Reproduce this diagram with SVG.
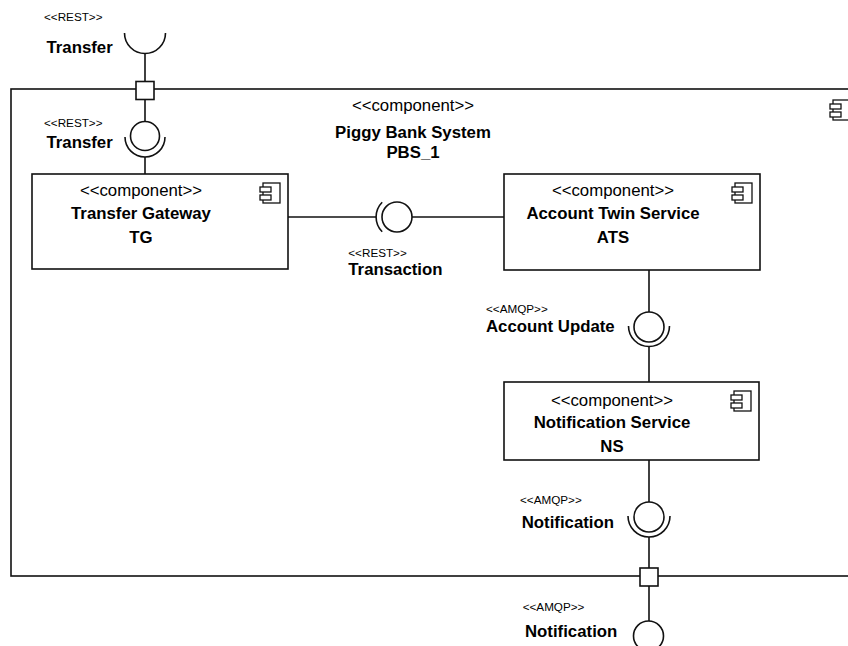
<svg xmlns="http://www.w3.org/2000/svg" width="848" height="646" viewBox="0 0 848 646">
<defs>
<style>
.box{fill:#fff;stroke:#111;stroke-width:1.6}
.ln{fill:none;stroke:#111;stroke-width:1.6}
.ic{fill:#fff;stroke:#111;stroke-width:1.3}
.st{font-family:"Liberation Sans",Arial,sans-serif;font-size:16.8px;fill:#000}
.nm{font-family:"Liberation Sans",Arial,sans-serif;font-size:16.8px;font-weight:bold;fill:#000}
.sm{font-family:"Liberation Sans",Arial,sans-serif;font-size:11.7px;fill:#000}
</style>
<g id="cicon">
<rect class="ic" x="3" y="0" width="17" height="20"/>
<rect class="ic" x="0" y="4" width="11" height="5"/>
<rect class="ic" x="0" y="12" width="11" height="5"/>
</g>
</defs>
<rect width="848" height="646" fill="#fff"/>

<g id="system">
<rect class="box" x="11" y="89" width="860" height="487"/>
<use href="#cicon" x="830" y="100"/>
<text class="st" x="413" y="111" text-anchor="middle">&lt;&lt;component&gt;&gt;</text>
<text class="nm" x="413" y="137.5" text-anchor="middle">Piggy Bank System</text>
<text class="nm" x="413" y="158" text-anchor="middle">PBS_1</text>
</g>

<g id="connectors">
<line class="ln" x1="145" y1="53.5" x2="145" y2="82"/>
<line class="ln" x1="145" y1="99" x2="145" y2="121.5"/>
<line class="ln" x1="145" y1="157" x2="145" y2="174"/>
<line class="ln" x1="288" y1="217" x2="376" y2="217"/>
<line class="ln" x1="412" y1="217" x2="504" y2="217"/>
<line class="ln" x1="649" y1="270" x2="649" y2="312"/>
<line class="ln" x1="649" y1="346" x2="649" y2="382"/>
<line class="ln" x1="649" y1="460" x2="649" y2="502"/>
<line class="ln" x1="649" y1="537" x2="649" y2="568"/>
<line class="ln" x1="649" y1="586" x2="649" y2="621"/>
</g>

<g id="port-transfer">
<rect class="box" x="136" y="81.5" width="18" height="18"/>
</g>
<g id="port-notification">
<rect class="box" x="640" y="568" width="18" height="18"/>
</g>

<g id="req-transfer-ext">
<path class="ln" d="M124.5,33 A20.5,20.5 0 0 0 165.5,33"/>
<text class="sm" x="44" y="20.5">&lt;&lt;REST&gt;&gt;</text>
<text class="nm" x="46.5" y="53">Transfer</text>
</g>

<g id="if-transfer">
<circle class="ln" cx="145" cy="136" r="14.5"/>
<path class="ln" d="M125,137 A20,20 0 0 0 165,137"/>
<text class="sm" x="44" y="126.5">&lt;&lt;REST&gt;&gt;</text>
<text class="nm" x="46.5" y="148">Transfer</text>
</g>

<g id="TG">
<rect class="box" x="32" y="174" width="256" height="95"/>
<use href="#cicon" x="260" y="183"/>
<text class="st" x="141" y="196" text-anchor="middle">&lt;&lt;component&gt;&gt;</text>
<text class="nm" x="141" y="219" text-anchor="middle">Transfer Gateway</text>
<text class="nm" x="141" y="243" text-anchor="middle">TG</text>
</g>

<g id="if-transaction">
<circle class="ln" cx="397" cy="217" r="15"/>
<path class="ln" d="M382.2,202.2 A21,21 0 0 0 382.2,231.8"/>
<text class="sm" x="348.3" y="257">&lt;&lt;REST&gt;&gt;</text>
<text class="nm" x="348.3" y="275">Transaction</text>
</g>

<g id="ATS">
<rect class="box" x="504" y="174" width="256" height="96"/>
<use href="#cicon" x="732" y="183"/>
<text class="st" x="613" y="196" text-anchor="middle">&lt;&lt;component&gt;&gt;</text>
<text class="nm" x="613" y="219" text-anchor="middle">Account Twin Service</text>
<text class="nm" x="613" y="243" text-anchor="middle">ATS</text>
</g>

<g id="if-account-update">
<circle class="ln" cx="649" cy="327" r="15"/>
<path class="ln" d="M628.5,326 A20.5,20.5 0 0 0 669.5,326"/>
<text class="sm" x="486" y="312.7">&lt;&lt;AMQP&gt;&gt;</text>
<text class="nm" x="486" y="331.7">Account Update</text>
</g>

<g id="NS">
<rect class="box" x="504" y="382" width="255" height="78"/>
<use href="#cicon" x="731" y="391"/>
<text class="st" x="612" y="405.5" text-anchor="middle">&lt;&lt;component&gt;&gt;</text>
<text class="nm" x="612" y="428" text-anchor="middle">Notification Service</text>
<text class="nm" x="612" y="452" text-anchor="middle">NS</text>
</g>

<g id="if-notification">
<circle class="ln" cx="649" cy="517" r="15"/>
<path class="ln" d="M628,516 A21,21 0 0 0 670,516"/>
<text class="sm" x="520" y="504">&lt;&lt;AMQP&gt;&gt;</text>
<text class="nm" x="521.7" y="528.3">Notification</text>
</g>

<g id="if-notification-ext">
<circle class="ln" cx="648.5" cy="636" r="15"/>
<text class="sm" x="522.7" y="610.7">&lt;&lt;AMQP&gt;&gt;</text>
<text class="nm" x="525" y="636.7">Notification</text>
</g>
</svg>
